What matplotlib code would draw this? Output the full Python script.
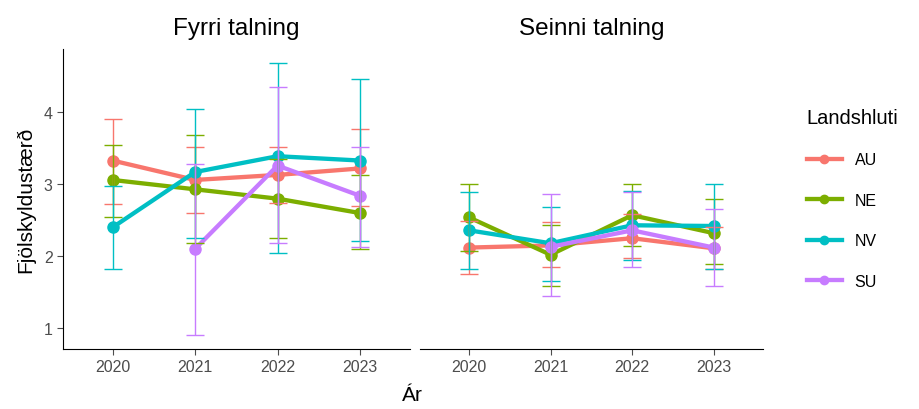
import numpy as np
import matplotlib
matplotlib.use("Agg")
import matplotlib.pyplot as plt
from matplotlib.lines import Line2D

plt.rcParams['font.family'] = ['Liberation Sans', 'DejaVu Sans']

# gögn
ar = ["2020", "2021", "2022", "2023"]
landshlutar = ["AU", "NE", "NV", "SU"]
litir = ["#F8766D", "#7CAE00", "#00BFC4", "#C77CFF"]
titlar = ["Fyrri talning", "Seinni talning"]

# fyrri talning: meðaltal, efri og neðri mörk (None = vantar)
fyrri_medal = {
    "AU": [3.33, 3.06, 3.13, 3.22],
    "NE": [3.06, 2.93, 2.80, 2.60],
    "NV": [2.40, 3.17, 3.39, 3.33],
    "SU": [None, 2.10, 3.26, 2.84],
}
fyrri_efri = {
    "AU": [3.91, 3.52, 3.52, 3.77],
    "NE": [3.55, 3.69, 3.35, 3.13],
    "NV": [2.97, 4.05, 4.68, 4.46],
    "SU": [None, 3.28, 4.35, 3.52],
}
fyrri_nedri = {
    "AU": [2.72, 2.60, 2.74, 2.70],
    "NE": [2.55, 2.18, 2.26, 2.10],
    "NV": [1.82, 2.25, 2.05, 2.21],
    "SU": [None, 0.91, 2.19, 2.13],
}

# seinni talning
seinni_medal = {
    "AU": [2.12, 2.15, 2.25, 2.11],
    "NE": [2.54, 2.02, 2.57, 2.32],
    "NV": [2.36, 2.18, 2.43, 2.42],
    "SU": [None, 2.13, 2.36, 2.12],
}
seinni_efri = {
    "AU": [2.49, 2.48, 2.59, 2.40],
    "NE": [3.01, 2.43, 3.01, 2.80],
    "NV": [2.89, 2.69, 2.91, 3.01],
    "SU": [None, 2.87, 2.89, 2.65],
}
seinni_nedri = {
    "AU": [1.75, 1.85, 1.97, 1.82],
    "NE": [2.07, 1.58, 2.14, 1.89],
    "NV": [1.82, 1.65, 1.95, 1.82],
    "SU": [None, 1.44, 1.85, 1.59],
}

fig = plt.figure(figsize=(9.19, 4.10), dpi=100)
ax1 = fig.add_axes([0.0686, 0.1463, 0.377, 0.7317])
ax2 = fig.add_axes([0.457, 0.1463, 0.373, 0.7317])

gogn = [(fyrri_medal, fyrri_efri, fyrri_nedri), (seinni_medal, seinni_efri, seinni_nedri)]

for ax, (medal, efri, nedri), titill in zip([ax1, ax2], gogn, titlar):
    x = np.arange(1, len(ar) + 1)
    for lh, litur in zip(landshlutar, litir):
        m = np.array([np.nan if v is None else v for v in medal[lh]])
        e = np.array([np.nan if v is None else v for v in efri[lh]])
        n = np.array([np.nan if v is None else v for v in nedri[lh]])
        ok = ~np.isnan(m)
        ax.plot(x[ok], m[ok], color=litur, lw=3.1, marker="o", ms=8, zorder=3)
        ax.errorbar(x[ok], m[ok], yerr=[m[ok] - n[ok], e[ok] - m[ok]], fmt="none",
                    ecolor=litur, elinewidth=1.0, capsize=6.5, capthick=1.0, zorder=4)
    ax.set_xlim(0.4, 4.6)
    ax.set_ylim(0.71, 4.88)
    ax.set_xticks(x)
    ax.set_xticklabels(ar)
    ax.set_yticks([1, 2, 3, 4])
    ax.tick_params(colors="#4D4D4D", labelsize=11.5, length=4, width=0.8)
    for s in ["top", "right"]:
        ax.spines[s].set_visible(False)
    ax.spines["bottom"].set_color("black")
    ax.spines["left"].set_color("black")
    ax.set_title(titill, fontsize=17.5, pad=10.5)

ax2.spines["left"].set_visible(False)
ax2.set_yticks([])

ax1.set_ylabel("Fjölskyldustærð", fontsize=15, labelpad=6)
fig.text(0.449, 0.012, "Ár", fontsize=15, ha="center", va="bottom")

handles = [Line2D([], [], color=c, lw=3.1, marker="o", ms=6) for c in litir]
leg = fig.legend(handles, landshlutar, title="Landshluti", loc="upper left",
                 bbox_to_anchor=(0.862, 0.77), frameon=False, fontsize=11.5,
                 title_fontsize=14.5, handlelength=2.2, labelspacing=1.6)
leg._legend_box.align = "left"

fig.savefig("out.png", dpi=100)
